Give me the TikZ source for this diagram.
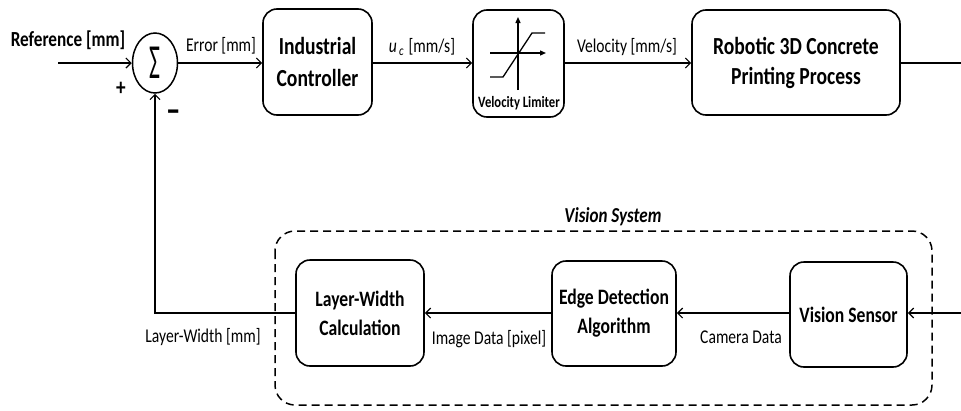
\documentclass[tikz,border=0pt]{standalone}
\usepackage{fontspec}
\setmainfont{Carlito}[FakeStretch=0.8]
\newfontfamily\plainfont{Carlito}
\usetikzlibrary{arrows.meta,shapes.geometric}
\tikzset{
  blk/.style={draw, line width=1.6pt, rounded corners=14pt, inner sep=0pt, align=center, font=\fontsize{22}{29}\selectfont\bfseries},
  arr/.style={line width=1.5pt, -{Straight Barb[length=5pt,width=10pt,line width=1.2pt]}},
  ln/.style={line width=1.5pt},
  lbl/.style={font=\fontsize{19.5}{22}\selectfont, inner sep=0pt},
  axis/.style={line width=1.3pt, -{Triangle[length=6pt,width=5pt]}}
}
\begin{document}
\begin{tikzpicture}[x=1pt,y=-1pt]
\useasboundingbox (0,0) rectangle (961,410);
% top row
\node[font=\fontsize{21.5}{24}\selectfont\bfseries, anchor=base, inner sep=0pt] (reflbl) at (68,46) {Reference [mm]};
\coordinate (refin) at (58,63);
\node[draw, ellipse, line width=1.5pt, minimum width=45pt, minimum height=60pt, inner sep=0pt] (sum) at (155,63)
  {\scalebox{0.85}[1.75]{\plainfont\fontsize{28}{28}\selectfont Σ}};
\node[font=\fontsize{24}{24}\selectfont\bfseries, inner sep=0pt] (plus) at (121,89) {+};
\node[font=\fontsize{24}{24}\selectfont\bfseries, inner sep=0pt] (minus) at (174,116) {\scalebox{1.5}[1.6]{–}};
\node[blk, minimum width=109pt, minimum height=106pt, font=\fontsize{24.5}{32}\selectfont\bfseries] (ic) at (317.5,62) {Industrial\\Controller};
\node[blk, minimum width=91pt, minimum height=107pt] (vl) at (518.5,63.5) {};
\node[font=\fontsize{15.8}{16}\selectfont\bfseries, inner sep=0pt] (vllbl) at (519,103) {Velocity Limiter};
\node[blk, minimum width=208pt, minimum height=105pt, font=\fontsize{24.5}{30}\selectfont\bfseries] (rob) at (796,62.5) {Robotic 3D Concrete\\Printing Process};
\coordinate (outR) at (961,63);
% limiter graph
\draw[axis] (518,90) -- (518,17);
\draw[axis] (490,53) -- (546,53);
\draw[line width=1.3pt] (490,77) -- (503,77) -- (532,33) -- (545,33);
% top connectors
\draw[arr] (refin) -- (sum.west);
\draw[arr] (sum.east) -- (ic.west |- sum.east);
\node[lbl] (errlbl) at (221,46) {Error [mm]};
\draw[arr] (ic.east |- 0,63) -- (vl.west |- 0,63);
\node[lbl] (uclbl) at (422,47) {$\mathit{u_c}$ [mm/s]};
\draw[arr] (vl.east |- 0,63) -- (rob.west |- 0,63);
\node[lbl] (vellbl) at (627,47) {Velocity [mm/s]};
\draw[ln] (rob.east |- outR) -- (outR);
% vision system
\draw[line width=1.5pt, dash pattern=on 8pt off 5pt, rounded corners=20pt] (275,231) rectangle (932,405);
\node[font=\fontsize{21.3}{24}\selectfont\bfseries\itshape, inner sep=0pt] (vslbl) at (613,217) {Vision System};
\node[blk, minimum width=128pt, minimum height=106pt] (lw) at (360,313) {Layer-Width\\Calculation};
\node[blk, minimum width=124pt, minimum height=105pt] (ed) at (614,313.5) {Edge Detection\\Algorithm};
\node[blk, minimum width=117pt, minimum height=105pt] (vs) at (848.5,314.5) {Vision Sensor};
\coordinate (inR) at (961,313);
\draw[arr] (inR) -- (vs.east |- inR);
\draw[arr] (vs.west |- inR) -- (ed.east |- inR);
\node[lbl] (camlbl) at (741,337) {Camera Data};
\draw[arr] (ed.west |- inR) -- (lw.east |- inR);
\node[lbl] (imglbl) at (489,339) {Image Data [pixel]};
\draw[arr] (lw.west |- inR) -| (sum.south);
\node[lbl] (lwlbl) at (203,337) {Layer-Width [mm]};
\end{tikzpicture}
\end{document}
